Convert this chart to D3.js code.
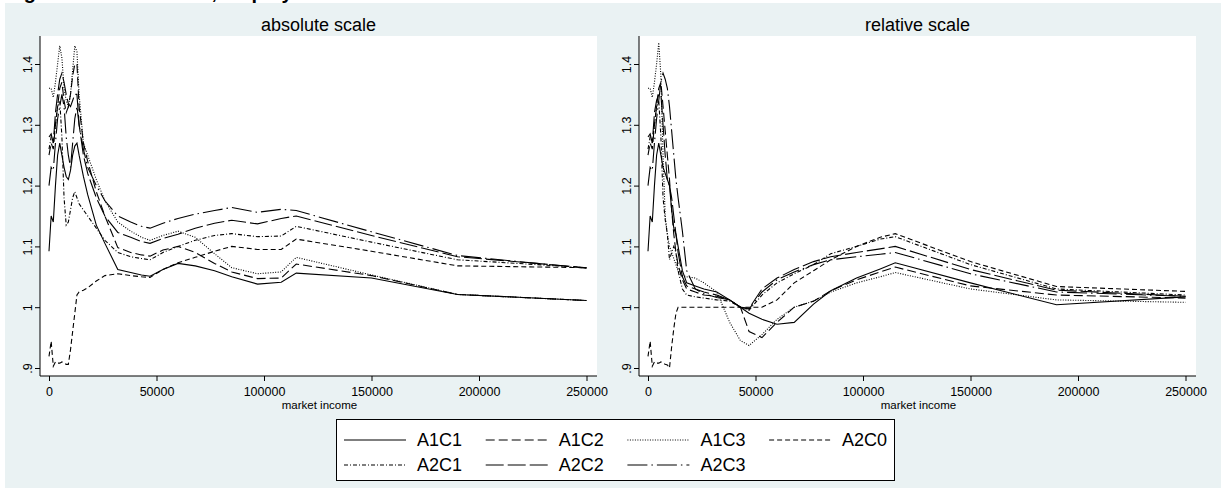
<!DOCTYPE html>
<meta charset="utf-8">
<style>
body { margin: 0; }
svg { display: block; font-family: "Liberation Sans", Arial, sans-serif; }
.fig_title { font-size: 20px; font-weight: bold; }
.panel_title { font-size: 18px; text-anchor: middle; }
.x_label { font-size: 11.5px; text-anchor: middle; }
.tick text { font-size: 12.5px; fill: #000; font-family: "Liberation Sans", Arial, sans-serif; }
.tick line { stroke: #000; }
.text_leg { font-size: 18px; }
.series { fill: none; stroke: #000; stroke-width: 1.1; }
</style>
<svg width="1221" height="488"></svg>
<script src="https://d3js.org/d3.v7.min.js"></script>
<script>
// market income grid shared by every curve
var income = [0, 1000, 2000, 3000, 4000, 5000, 6000, 7000, 8000, 9000,
              10000, 11000, 12000, 13000, 14000, 16000, 18000, 22000, 26000, 32000,
              38000, 43000, 47000, 53000, 60000, 68000, 77000, 85000, 97000, 108000,
              115000, 150000, 190000, 250000];

var seriesNames = ["A1C1", "A1C2", "A1C3", "A2C0", "A2C1", "A2C2", "A2C3"];

// absolute scale panel
var a1c1Abs = [1.092,1.15,1.14,1.20,1.25,1.27,1.25,1.23,1.215,1.21,1.225,1.25,1.265,1.27,1.25,1.215,1.185,1.135,1.105,1.062,1.057,1.053,1.051,1.062,1.072,1.068,1.060,1.050,1.038,1.041,1.056,1.048,1.021,1.011];
var a1c2Abs = [1.25,1.27,1.26,1.30,1.33,1.36,1.37,1.34,1.32,1.33,1.35,1.38,1.40,1.40,1.33,1.27,1.24,1.19,1.15,1.098,1.09,1.086,1.084,1.094,1.10,1.09,1.072,1.058,1.047,1.048,1.071,1.052,1.021,1.011];
var a1c3Abs = [1.36,1.36,1.345,1.37,1.40,1.43,1.41,1.36,1.34,1.33,1.35,1.39,1.43,1.42,1.35,1.27,1.25,1.21,1.175,1.14,1.125,1.115,1.11,1.118,1.125,1.115,1.088,1.065,1.055,1.058,1.082,1.053,1.021,1.011];
var a2c0Abs = [0.919,0.944,0.903,0.91,0.908,0.908,0.91,0.908,0.906,0.906,0.93,0.96,0.99,1.02,1.025,1.028,1.032,1.043,1.052,1.055,1.052,1.05,1.049,1.062,1.073,1.082,1.092,1.10,1.095,1.095,1.112,1.092,1.068,1.065];
var a2c1Abs = [1.26,1.28,1.27,1.30,1.33,1.34,1.28,1.18,1.135,1.14,1.16,1.18,1.19,1.18,1.17,1.16,1.15,1.13,1.11,1.09,1.083,1.08,1.078,1.09,1.10,1.11,1.118,1.121,1.116,1.117,1.133,1.107,1.078,1.065];
var a2c2Abs = [1.28,1.285,1.27,1.32,1.35,1.375,1.385,1.37,1.35,1.335,1.33,1.34,1.35,1.35,1.30,1.25,1.22,1.18,1.15,1.123,1.115,1.108,1.105,1.113,1.12,1.13,1.138,1.143,1.137,1.146,1.150,1.118,1.083,1.065];
var a2c3Abs = [1.20,1.23,1.225,1.27,1.31,1.33,1.35,1.33,1.28,1.25,1.23,1.27,1.31,1.33,1.30,1.26,1.23,1.20,1.175,1.15,1.14,1.133,1.13,1.138,1.146,1.153,1.159,1.164,1.156,1.161,1.159,1.124,1.085,1.064];

// relative scale panel
var a1c1Rel = [1.092,1.15,1.14,1.20,1.25,1.27,1.25,1.23,1.22,1.21,1.20,1.16,1.13,1.12,1.10,1.06,1.04,1.035,1.03,1.025,1.012,1.0,0.99,0.98,0.972,0.975,1.005,1.027,1.048,1.063,1.073,1.04,1.004,1.017];
var a1c2Rel = [1.25,1.27,1.26,1.30,1.33,1.36,1.37,1.33,1.29,1.25,1.21,1.16,1.12,1.09,1.07,1.045,1.03,1.025,1.02,1.018,1.012,1.0,0.96,0.95,0.975,1.0,1.01,1.027,1.045,1.058,1.066,1.035,1.02,1.015];
var a1c3Rel = [1.36,1.36,1.345,1.37,1.40,1.435,1.38,1.25,1.15,1.12,1.10,1.09,1.08,1.07,1.06,1.052,1.05,1.048,1.04,1.025,0.975,0.945,0.937,0.955,0.98,1.0,1.01,1.025,1.04,1.05,1.057,1.03,1.012,1.008];
var a2c0Rel = [0.919,0.944,0.903,0.91,0.908,0.908,0.91,0.908,0.906,0.905,0.90,0.935,0.965,0.99,1.0,1.0,1.0,1.0,1.0,1.0,1.0,1.0,1.0,1.0,1.012,1.04,1.06,1.078,1.10,1.115,1.121,1.075,1.034,1.026];
var a2c1Rel = [1.26,1.28,1.27,1.30,1.33,1.34,1.28,1.18,1.144,1.12,1.078,1.09,1.10,1.09,1.06,1.03,1.02,1.017,1.015,1.012,1.01,1.0,0.995,1.02,1.04,1.055,1.07,1.088,1.10,1.112,1.116,1.07,1.03,1.02];
var a2c2Rel = [1.28,1.285,1.27,1.32,1.34,1.35,1.35,1.30,1.25,1.21,1.20,1.18,1.15,1.12,1.09,1.05,1.035,1.03,1.025,1.02,1.012,1.0,0.998,1.03,1.048,1.062,1.075,1.083,1.09,1.096,1.10,1.062,1.028,1.018];
var a2c3Rel = [1.20,1.23,1.225,1.27,1.31,1.34,1.37,1.385,1.375,1.36,1.33,1.29,1.25,1.21,1.18,1.125,1.06,1.03,1.022,1.016,1.012,1.0,0.997,1.025,1.045,1.058,1.07,1.078,1.083,1.087,1.09,1.055,1.025,1.018];

var xTicks = [0, 50000, 100000, 150000, 200000, 250000];
var yTicks = [0.9, 1, 1.1, 1.2, 1.3, 1.4];
var yTickLabels = [".9", "1", "1.1", "1.2", "1.3", "1.4"];

var figTitle = "Figure 2: Net tax ratio, employees";
var panelTitles = ["absolute scale", "relative scale"];
var xTitle = "market income";

// stata line patterns, one per series
var dashes = ["none", "9,4", "1,1.5", "5,3", "4,2,1,2", "18,4", "20,4,1.5,4"];

var svg = d3.select("svg"),
    width = +svg.attr("width"),
    height = +svg.attr("height");

svg.append("rect").attr("width", width).attr("height", height).attr("fill", "#fff");
svg.append("rect").attr("x", 5).attr("y", 3)
  .attr("width", width - 5).attr("height", height - 3)
  .attr("fill", "#eaf2f3");
// big heading, mostly cut off by the top edge
svg.append("text").attr("class", "fig_title").attr("x", 6).attr("y", -1).text(figTitle);

var plotTop = 36, plotBottom = 376, plotW = 557;
var panels = [
  { left: 40, title: panelTitles[0], data: [a1c1Abs, a1c2Abs, a1c3Abs, a2c0Abs, a2c1Abs, a2c2Abs, a2c3Abs] },
  { left: 639, title: panelTitles[1], data: [a1c1Rel, a1c2Rel, a1c3Rel, a2c0Rel, a2c1Rel, a2c2Rel, a2c3Rel] }
];

var y = d3.scaleLinear().domain([0.9, 1.4]).range([368, 64]);

panels.forEach(function(p) {
  var g = svg.append("g");
  var x = d3.scaleLinear().domain([0, 250000]).range([p.left + 9, p.left + 546.5]);

  g.append("rect")
    .attr("x", p.left).attr("y", plotTop)
    .attr("width", plotW).attr("height", plotBottom - plotTop)
    .attr("fill", "#fff");

  g.append("text").attr("class", "panel_title")
    .attr("x", p.left + plotW / 2).attr("y", 31)
    .text(p.title);

  var line = d3.line()
    .x(function(d, i) { return x(income[i]); })
    .y(function(d) { return y(d); });

  g.selectAll(".series").data(p.data).enter()
    .append("path")
    .attr("class", "series")
    .attr("d", line)
    .attr("stroke-dasharray", function(d, i) { return dashes[i]; });

  // axis lines along the plot region
  g.append("path")
    .attr("d", "M" + p.left + "," + plotTop + "V" + plotBottom + "H" + (p.left + plotW))
    .attr("fill", "none").attr("stroke", "#000").attr("stroke-width", 1);

  var xa = g.append("g")
    .attr("transform", "translate(0," + plotBottom + ")")
    .call(d3.axisBottom(x).tickValues(xTicks).tickFormat(d3.format("d")).tickSize(5).tickPadding(6));
  xa.select(".domain").remove();

  var ya = g.append("g")
    .attr("transform", "translate(" + p.left + ",0)")
    .call(d3.axisLeft(y).tickValues(yTicks).tickFormat(function(d, i) { return yTickLabels[i]; }).tickSize(5));
  ya.select(".domain").remove();
  ya.selectAll(".tick text")
    .attr("transform", "rotate(-90)")
    .attr("x", 0).attr("y", -8).attr("dy", 0)
    .attr("text-anchor", "middle");

  g.append("text").attr("class", "x_label")
    .attr("x", p.left + plotW / 2 + 1).attr("y", 409)
    .text(xTitle);
});

// legend
var leg = svg.append("g");
leg.append("rect")
  .attr("x", 336.5).attr("y", 419.5)
  .attr("width", 558).attr("height", 61)
  .attr("fill", "#fff").attr("stroke", "#000").attr("stroke-width", 1);

var item = leg.selectAll(".leg_item").data(seriesNames).enter()
  .append("g")
  .attr("class", "leg_item")
  .attr("transform", function(d, i) {
    return "translate(" + (344 + (i % 4) * 141.7) + "," + (440 + Math.floor(i / 4) * 25) + ")";
  });

item.append("line")
  .attr("class", "series")
  .attr("x1", 0).attr("x2", 62)
  .attr("stroke-dasharray", function(d, i) { return dashes[i]; });

item.append("text")
  .attr("class", "text_leg")
  .attr("x", 73).attr("y", 6)
  .text(function(d) { return d; });
</script>
